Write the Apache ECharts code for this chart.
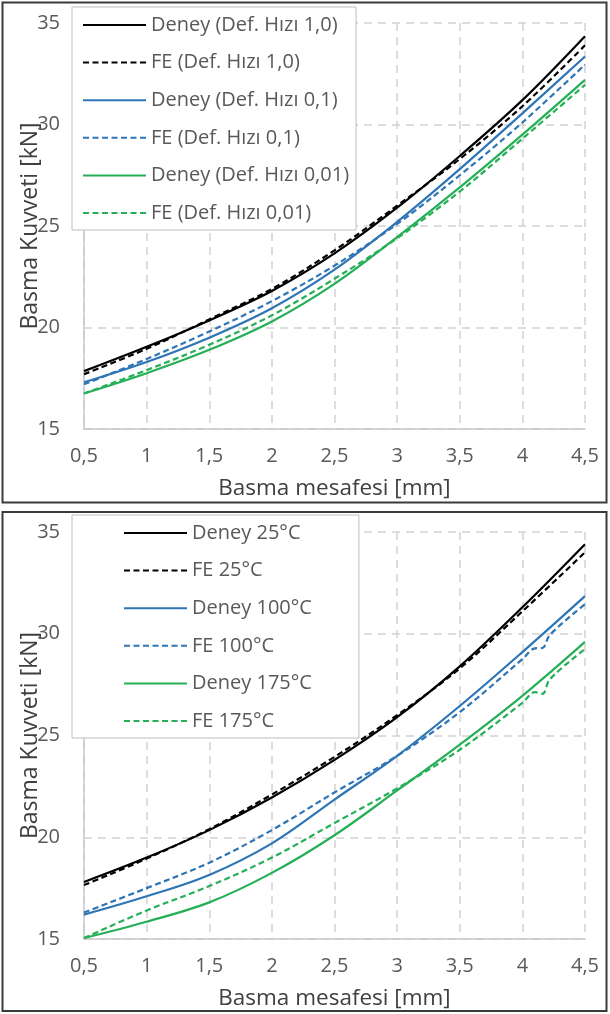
<!DOCTYPE html>
<html>
<head>
<meta charset="utf-8">
<script src="https://cdn.jsdelivr.net/npm/echarts@6/dist/echarts.min.js"></script>
<style>
html,body{margin:0;padding:0;background:#fff;}
#c{width:610px;height:1014px;}
</style>
</head>
<body>
<div id="c"></div>
<script>
// ---- data ----
const xTicks = [0.5, 1, 1.5, 2, 2.5, 3, 3.5, 4, 4.5];
const xTickLabels = ['0,5', '1', '1,5', '2', '2,5', '3', '3,5', '4', '4,5'];
const xPts = [0.5, 1, 1.5, 2, 2.5, 3, 3.5, 4, 4.5];

// Top panel (deformation rate)
const topNames = ['Deney (Def. Hızı 1,0)', 'FE (Def. Hızı 1,0)', 'Deney (Def. Hızı 0,1)', 'FE (Def. Hızı 0,1)', 'Deney (Def. Hızı 0,01)', 'FE (Def. Hızı 0,01)'];
const deney10 = [17.85, 19.05, 20.35, 21.8, 23.65, 25.9, 28.45, 31.2, 34.35];
const fe10    = [17.7, 18.95, 20.4, 21.9, 23.8, 26.0, 28.3, 30.9, 33.9];
const deney01 = [17.3, 18.3, 19.5, 20.95, 22.85, 25.2, 27.8, 30.55, 33.35];
const fe01    = [17.2, 18.45, 19.8, 21.3, 23.05, 25.1, 27.5, 30.1, 32.95];
const deney001= [16.75, 17.75, 18.9, 20.3, 22.15, 24.45, 26.9, 29.5, 32.2];
const fe001   = [16.75, 17.9, 19.15, 20.6, 22.4, 24.4, 26.7, 29.3, 31.95];

// Bottom panel (temperature)
const botNames = ['Deney 25°C', 'FE 25°C', 'Deney 100°C', 'FE 100°C', 'Deney 175°C', 'FE 175°C'];
const deney25  = [17.8, 19.0, 20.35, 21.95, 23.8, 25.9, 28.4, 31.3, 34.4];
const fe25     = [17.65, 18.95, 20.4, 22.1, 23.95, 26.0, 28.3, 31.1, 34.0];
const deney100 = [16.2, 17.1, 18.15, 19.7, 21.85, 24.0, 26.45, 29.1, 31.85];
const fe100X   = [0.5, 1, 1.5, 2, 2.5, 3, 3.5, 4, 4.1, 4.16, 4.22, 4.5];
const fe100    = [16.3, 17.5, 18.75, 20.35, 22.2, 24.0, 26.15, 28.75, 29.28, 29.3, 29.95, 31.45];
const deney175 = [15.05, 15.85, 16.8, 18.25, 20.1, 22.3, 24.55, 26.95, 29.6];
const fe175X   = [0.5, 1, 1.5, 2, 2.5, 3, 3.5, 4, 4.1, 4.16, 4.22, 4.5];
const fe175    = [15.05, 16.4, 17.6, 19.0, 20.7, 22.4, 24.3, 26.6, 27.13, 27.05, 27.77, 29.25];

// ---- style ----
const FONT = 'Open Sans';
const BLACK = '#000000', BLUE = '#2e75b6', GREEN = '#25af57';
const DASH = [6, 3.5];

function pairs(xs, ys) { return xs.map((x, i) => [x, ys[i]]); }
function mk(name, xs, ys, color, dashed, idx) {
  return {
    name, type: 'line', xAxisIndex: idx, yAxisIndex: idx,
    data: pairs(xs, ys), symbol: 'none', smooth: 0.35,
    lineStyle: { color, width: 2.2, type: dashed ? DASH : 'solid' },
    itemStyle: { color },
    emphasis: { disabled: true }
  };
}

const series = [
  mk(topNames[0], xPts, deney10, BLACK, false, 0),
  mk(topNames[1], xPts, fe10, BLACK, true, 0),
  mk(topNames[2], xPts, deney01, BLUE, false, 0),
  mk(topNames[3], xPts, fe01, BLUE, true, 0),
  mk(topNames[4], xPts, deney001, GREEN, false, 0),
  mk(topNames[5], xPts, fe001, GREEN, true, 0),
  mk(botNames[0], xPts, deney25, BLACK, false, 1),
  mk(botNames[1], xPts, fe25, BLACK, true, 1),
  mk(botNames[2], xPts, deney100, BLUE, false, 1),
  mk(botNames[3], fe100X, fe100, BLUE, true, 1),
  mk(botNames[4], xPts, deney175, GREEN, false, 1),
  mk(botNames[5], fe175X, fe175, GREEN, true, 1)
];

const gridLine = { show: true, lineStyle: { color: '#d2d2d2', width: 1.5, type: [8, 6] } };
const axisLine = { show: true, lineStyle: { color: '#c8c8c8', width: 1.5 } };

function xAx(idx) {
  return {
    type: 'value', gridIndex: idx, min: 0.5, max: 4.5, interval: 0.5,
    axisLine, axisTick: { show: false }, splitLine: gridLine,
    axisLabel: { fontFamily: FONT, fontSize: 20, color: '#595959', margin: 17,
      formatter: v => { const i = xTicks.indexOf(v); return i >= 0 ? xTickLabels[i] : ''; } },
    name: 'Basma mesafesi [mm]', nameLocation: 'middle', nameGap: 48, nameMoveOverlap: false,
    nameTextStyle: { fontFamily: FONT, fontSize: 22.5, color: '#404040' }
  };
}
function yAx(idx) {
  return {
    type: 'value', gridIndex: idx, min: 15, max: 35, interval: 5,
    axisLine, axisTick: { show: false }, splitLine: gridLine,
    axisLabel: { fontFamily: FONT, fontSize: 20, color: '#595959', margin: 24 },
    name: 'Basma Kuvveti [kN]', nameLocation: 'middle', nameGap: 42, nameMoveOverlap: false,
    nameTextStyle: { fontFamily: FONT, fontSize: 23, color: '#404040' }
  };
}
function legend(names, top, left, padding) {
  return {
    data: names, orient: 'vertical', left, top,
    itemWidth: 63, itemHeight: 14, itemGap: 17.6,
    backgroundColor: '#ffffff', borderColor: '#bdbdbd', borderWidth: 1,
    padding, selectedMode: false,
    itemStyle: { color: 'transparent', borderWidth: 0, opacity: 0 },
    textStyle: { fontFamily: FONT, fontSize: 20, color: '#595959', lineHeight: 20 }
  };
}

const chart = echarts.init(document.getElementById('c'), null, { renderer: 'canvas' });
chart.setOption({
  animation: false,
  backgroundColor: '#ffffff',
  grid: [
    { left: 84, width: 501, top: 23, height: 406 },
    { left: 84, width: 501, top: 532, height: 407 }
  ],
  xAxis: [xAx(0), xAx(1)],
  yAxis: [yAx(0), yAx(1)],
  legend: [
    legend(topNames, 7, 72, [8, 7, 7, 10]),
    legend(botNames, 515, 72, [8, 47, 7, 51])
  ],
  graphic: [
    { type: 'rect', shape: { x: 2.5, y: 2.5, width: 604, height: 500 }, style: { fill: 'none', stroke: '#3a3a3a', lineWidth: 2 }, z: 10 },
    { type: 'rect', shape: { x: 2.5, y: 512, width: 604, height: 499 }, style: { fill: 'none', stroke: '#3a3a3a', lineWidth: 2 }, z: 10 }
  ],
  series
});
</script>
</body>
</html>
